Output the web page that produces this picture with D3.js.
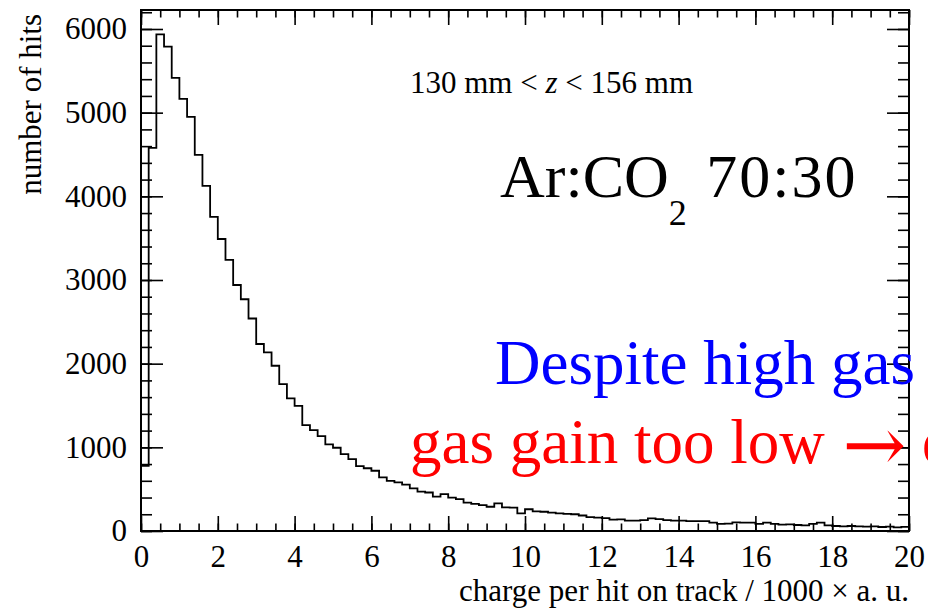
<!DOCTYPE html>
<html>
<head>
<meta charset="utf-8">
<script src="https://cdn.jsdelivr.net/npm/d3@7"></script>
<style>
  html, body { margin: 0; padding: 0; background: #fff; }
  svg text { font-family: "Liberation Serif", "Times New Roman", serif; }
</style>
</head>
<body>
<div id="app"></div>
<script>
// histogram: 100 bins of width 0.2 from 0 to 20 (charge / 1000 a.u.)
const binEdgesRange = [0, 20];
const binCounts = [
  780, 4580, 5935, 5790, 5415, 5165, 4950, 4495, 4125, 3755,
  3490, 3240, 2940, 2770, 2540, 2235, 2135, 1975, 1755, 1585,
  1495, 1265, 1205, 1135, 1035, 995, 920, 860, 775, 750,
  720, 640, 600, 580, 555, 510, 470, 460, 410, 440,
  400, 380, 340, 325, 310, 290, 330, 283, 280, 210,
  260, 235, 230, 220, 210, 205, 200, 185, 165, 160,
  155, 135, 140, 125, 123, 131, 150, 143, 131, 123,
  123, 119, 119, 119, 99, 84, 88, 104, 99, 99,
  84, 99, 84, 76, 80, 72, 68, 84, 99, 68,
  60, 56, 60, 56, 52, 56, 48, 52, 44, 50
];
const xTicks = [0, 2, 4, 6, 8, 10, 12, 14, 16, 18, 20];
const yTicks = [0, 1000, 2000, 3000, 4000, 5000, 6000];
const yMax = 6227;

const w = 928;
const h = 609;
const padLeft = 141, padRight = 909, padTop = 10, padBottom = 531;
const serif = '"Liberation Serif", "Times New Roman", serif';

const svg = d3.select('#app')
  .append('svg')
  .attr('width', w)
  .attr('height', h);

svg.append('rect').attr('width', w).attr('height', h).attr('fill', '#fff');

const xScale = d3.scaleLinear().domain(binEdgesRange).range([padLeft, padRight]);
const yScale = d3.scaleLinear().domain([0, yMax]).range([padBottom, padTop]);

const binWidth = (binEdgesRange[1] - binEdgesRange[0]) / binCounts.length;

//////////AXES//////////
const xMinor = d3.range(0, 20.001, 0.5);
const yMinor = d3.range(0, yMax, 200);

function tickAxis(axis, values, size) {
  return axis.tickValues(values).tickSize(size).tickFormat('');
}

// bottom
svg.append('g')
  .attr('transform', 'translate(0,' + padBottom + ')')
  .call(tickAxis(d3.axisBottom(xScale), xMinor, -7.5));
svg.append('g')
  .attr('id', 'x-axis')
  .attr('transform', 'translate(0,' + padBottom + ')')
  .call(d3.axisBottom(xScale).tickValues(xTicks).tickSize(-15).tickPadding(14).tickFormat(d3.format('d')));
// top
svg.append('g')
  .attr('transform', 'translate(0,' + padTop + ')')
  .call(tickAxis(d3.axisTop(xScale), xMinor, -7.5));
svg.append('g')
  .attr('transform', 'translate(0,' + padTop + ')')
  .call(tickAxis(d3.axisTop(xScale), xTicks, -15));
// left
svg.append('g')
  .attr('transform', 'translate(' + padLeft + ',0)')
  .call(tickAxis(d3.axisLeft(yScale), yMinor, -11));
svg.append('g')
  .attr('id', 'y-axis')
  .attr('transform', 'translate(' + padLeft + ',0)')
  .call(d3.axisLeft(yScale).tickValues(yTicks).tickSize(-22).tickPadding(14).tickFormat(d3.format('d')));
// right
svg.append('g')
  .attr('transform', 'translate(' + padRight + ',0)')
  .call(tickAxis(d3.axisRight(yScale), yMinor, -11));
svg.append('g')
  .attr('transform', 'translate(' + padRight + ',0)')
  .call(tickAxis(d3.axisRight(yScale), yTicks, -22));

svg.selectAll('.domain').remove();
svg.selectAll('g').attr('font-family', serif);
svg.selectAll('.tick line').attr('stroke', '#000').attr('stroke-width', 1.6);
svg.selectAll('.tick text')
  .attr('fill', '#000')
  .attr('font-family', serif)
  .style('font-size', '31px');

//////////HISTOGRAM//////////
const steps = [[0, 0]];
binCounts.forEach((c, i) => {
  steps.push([i * binWidth, c]);
  steps.push([(i + 1) * binWidth, c]);
});
steps.push([20, 0]);

svg.append('path')
  .datum(steps)
  .attr('fill', 'none')
  .attr('stroke', '#000')
  .attr('stroke-width', 1.8)
  .attr('d', d3.line().x((d) => xScale(d[0])).y((d) => yScale(d[1])));

// frame
svg.append('rect')
  .attr('x', padLeft)
  .attr('y', padTop)
  .attr('width', padRight - padLeft)
  .attr('height', padBottom - padTop)
  .attr('fill', 'none')
  .attr('stroke', '#000')
  .attr('stroke-width', 2);

//////////TITLES//////////
svg.append('text')
  .attr('x', padRight)
  .attr('y', 601)
  .attr('text-anchor', 'end')
  .attr('font-family', serif)
  .style('font-size', '31px')
  .text('charge per hit on track / 1000 \u00D7 a. u.');

svg.append('text')
  .attr('transform', 'translate(41,14) rotate(-90)')
  .attr('text-anchor', 'end')
  .attr('font-family', serif)
  .style('font-size', '31px')
  .text('number of hits');

//////////LABELS//////////
const zLabel = svg.append('text')
  .attr('x', 410)
  .attr('y', 93)
  .attr('font-family', serif)
  .style('font-size', '31px');
zLabel.append('tspan').text('130 mm < ');
zLabel.append('tspan').style('font-style', 'italic').text('z');
zLabel.append('tspan').text(' < 156 mm');

const gasLabel = svg.append('text')
  .attr('x', 500)
  .attr('y', 197)
  .attr('font-family', serif)
  .style('font-size', '62px');
gasLabel.append('tspan').text('Ar:CO');
gasLabel.append('tspan').attr('dy', 28).style('font-size', '36px').text('2');
gasLabel.append('tspan').attr('dy', -28).attr('dx', 2).style('letter-spacing', '2px').text(' 70:30');

svg.append('text')
  .attr('x', 495)
  .attr('y', 384)
  .attr('fill', '#0000ff')
  .attr('font-family', serif)
  .style('font-size', '63px')
  .text('Despite high gas');

const redLabel = svg.append('text')
  .attr('x', 410)
  .attr('y', 463)
  .attr('fill', '#ff0000')
  .attr('font-family', serif)
  .style('font-size', '63px');
redLabel.append('tspan').text('gas gain too low ');
redLabel.append('tspan')
  .attr('dx', 2)
  .attr('dy', 8)
  .attr('font-family', '"DejaVu Serif", serif')
  .style('font-size', '76px')
  .text('\u2192');
redLabel.append('tspan').attr('dy', -8).text(' d');
</script>
</body>
</html>
